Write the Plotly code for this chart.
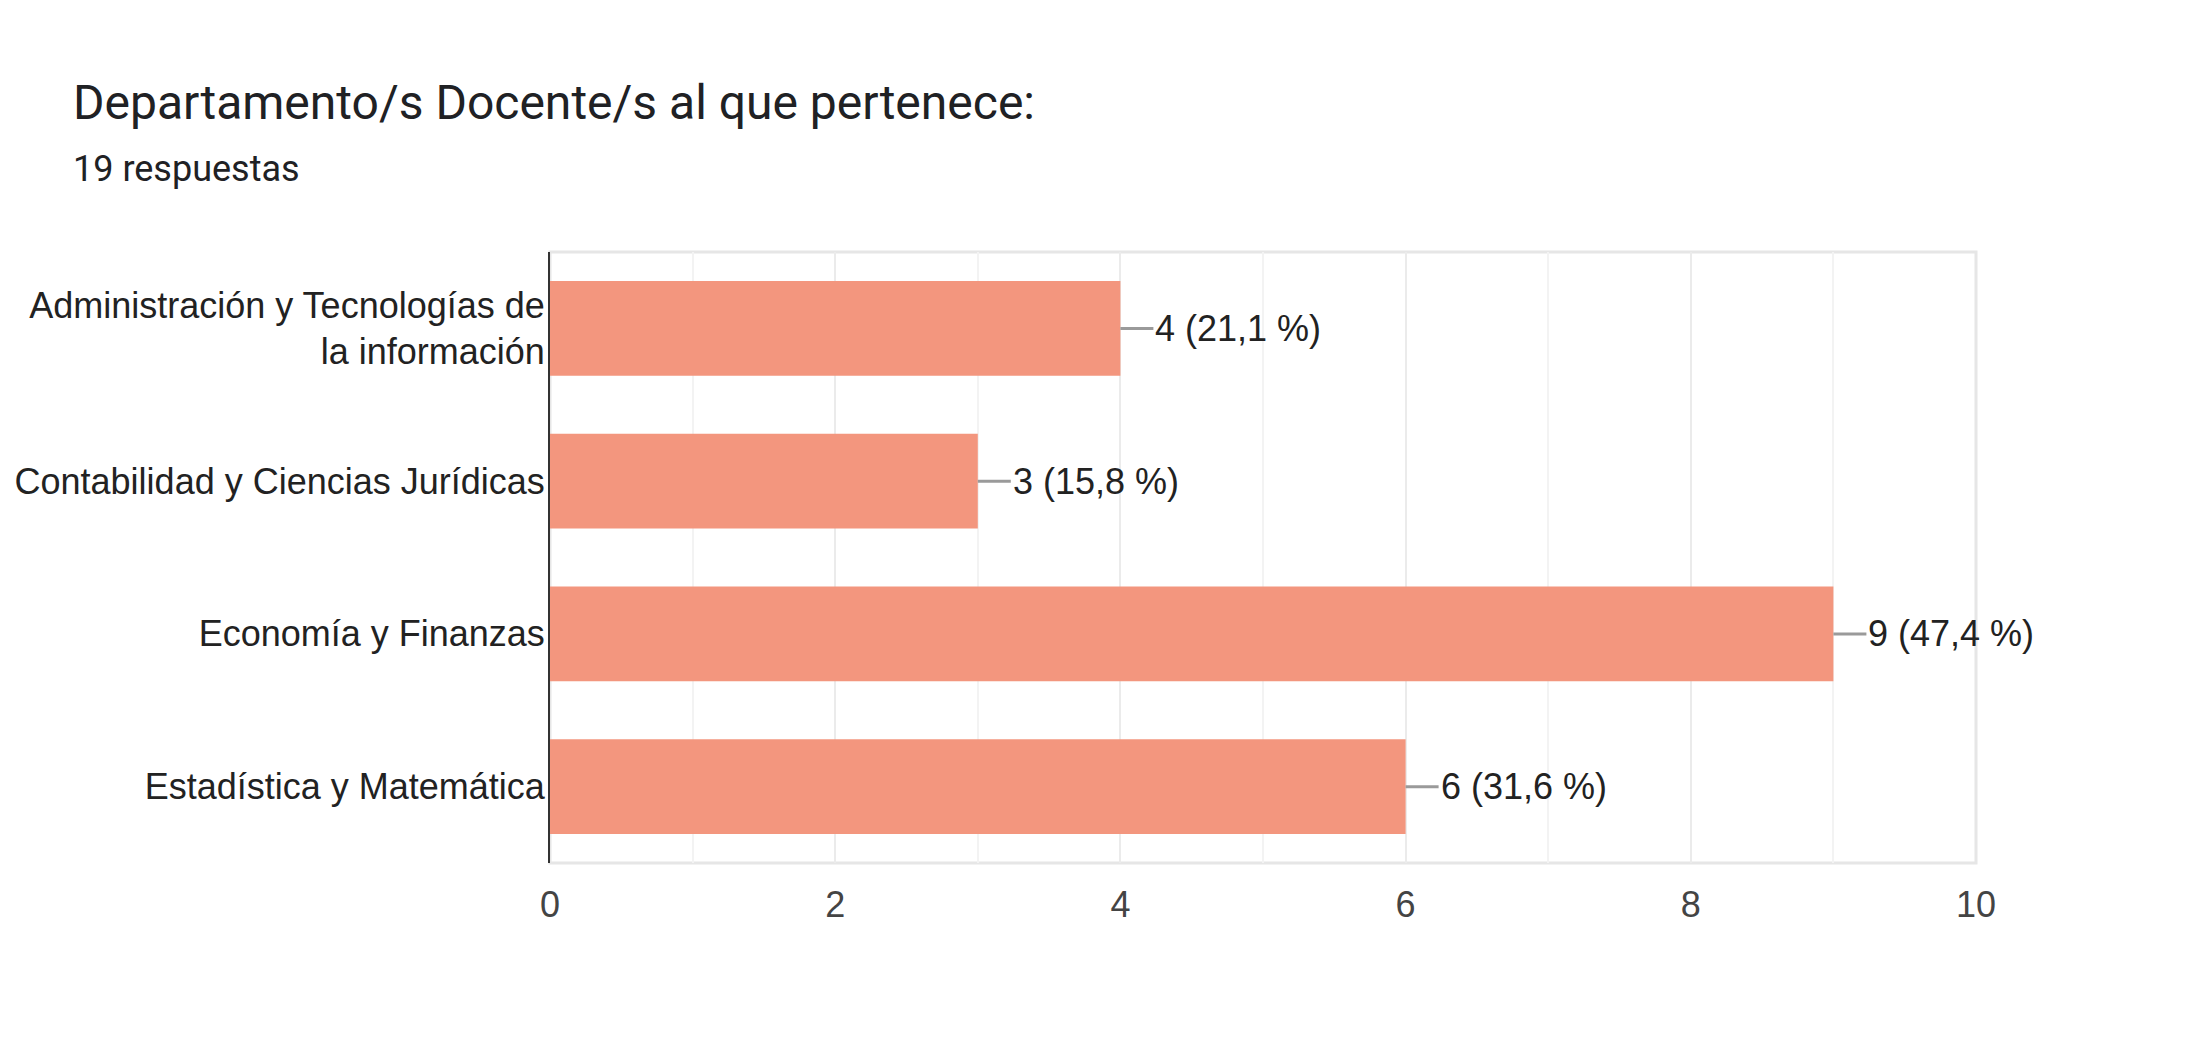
import plotly.graph_objects as go

categories = ["Administración y Tecnologías de<br>la información",
              "Contabilidad y Ciencias Jurídicas",
              "Economía y Finanzas",
              "Estadística y Matemática"]
counts = [4, 3, 9, 6]
pct_labels = ["21,1 %", "15,8 %", "47,4 %", "31,6 %"]
x_ticks = [0, 2, 4, 6, 8, 10]

W, H = 2196, 1044
ML, MR, MT, MB = 550, 220, 252, 181
PW, PH = W - ML - MR, H - MT - MB

def px_x(px):
    return (px - ML) / PW

def px_y(py):
    return (H - MB - py) / PH

BAR = "#F3967E"
FONT = "Liberation Sans, Arial, sans-serif"

fig = go.Figure()
fig.add_trace(go.Bar(
    x=counts, y=categories, orientation="h",
    marker=dict(color=BAR, line=dict(width=0)),
    hoverinfo="skip",
))

for c, v, p in zip(categories, counts, pct_labels):
    fig.add_annotation(
        x=v, y=c, xref="x", yref="y",
        text=f"{v} ({p})", showarrow=True, arrowhead=0, arrowwidth=3,
        arrowcolor="#9a9a9a", ax=33, ay=0, xanchor="left", yanchor="middle",
        standoff=0, startstandoff=0,
        font=dict(family=FONT, size=36, color="#222222"),
    )

fig.add_annotation(
    x=px_x(71), y=px_y(103), xref="paper", yref="paper",
    text="Departamento/s Docente/s al que pertenece:", showarrow=False,
    xanchor="left", yanchor="middle",
    font=dict(family="Roboto, sans-serif", size=48, color="#202124"),
)
fig.add_annotation(
    x=px_x(71), y=px_y(169), xref="paper", yref="paper",
    text="19 respuestas", showarrow=False,
    xanchor="left", yanchor="middle",
    font=dict(family="Roboto, sans-serif", size=36, color="#202124"),
)

# light frame around the plotting area
fig.add_shape(type="rect", xref="paper", yref="paper", x0=0, x1=1, y0=0, y1=1,
              line=dict(color="#e6e6e6", width=3), layer="below")

fig.update_layout(
    width=W, height=H,
    margin=dict(l=ML, r=MR, t=MT, b=MB, pad=0),
    paper_bgcolor="white", plot_bgcolor="white",
    bargap=0.38, showlegend=False,
    font=dict(family=FONT, size=36, color="#222222"),
)
fig.update_xaxes(
    range=[0, 10], tickvals=x_ticks, ticktext=[str(t) for t in x_ticks],
    showgrid=True, gridcolor="#ebebeb", gridwidth=2,
    minor=dict(dtick=1, showgrid=True, gridcolor="#f3f3f3", gridwidth=2),
    zeroline=False, showline=False, ticks="",
    tickfont=dict(family=FONT, size=36, color="#444444"),
    ticklabelstandoff=17,
    fixedrange=True,
)
fig.update_yaxes(
    categoryorder="array", categoryarray=categories[::-1],
    showgrid=False, zeroline=False,
    showline=True, linecolor="#333333", linewidth=2,
    ticks="", ticklabelstandoff=-4,
    tickfont=dict(family=FONT, size=36, color="#222222"),
    fixedrange=True,
)

fig.write_html("out.html")
